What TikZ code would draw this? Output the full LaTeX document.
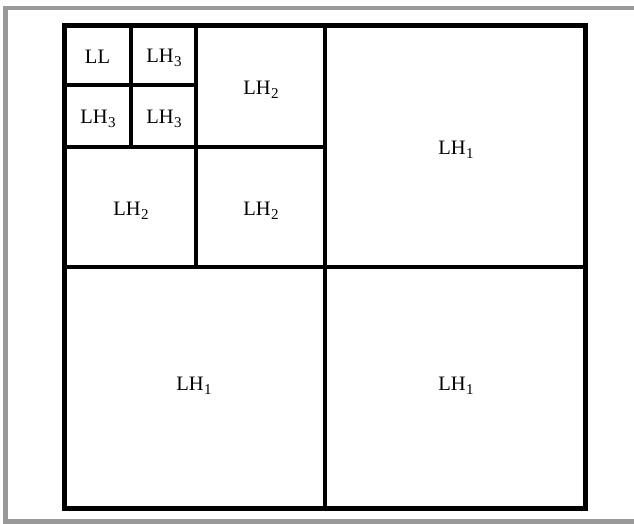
\documentclass[tikz,border=0pt]{standalone}
\usepackage{fontspec}
\setmainfont{Liberation Serif}
\tikzset{
  frameline/.style={draw=black!40, line width=4.5pt},
  outerline/.style={draw=black, line width=5pt},
  innerline/.style={draw=black, line width=4pt},
  lbl/.style={font=\fontsize{20.5}{22}\selectfont, inner sep=0pt}
}
\newcommand\lhsub[1]{LH\kern0.5pt\raisebox{-4.5pt}{\fontsize{15}{15}\selectfont #1}}
\begin{document}
\begin{tikzpicture}[x=1pt,y=-1pt]
\useasboundingbox (0,0) rectangle (634,523);
\fill[white] (0,0) rectangle (634,523);
% outer gray frame (right side cut off)
\draw[frameline] (634,8) -- (5.5,8) -- (5.5,521.5) -- (634,521.5);
% coordinates
\coordinate (TL) at (64.5,25.5);
\coordinate (BR) at (585.5,508);
% inner lines
\draw[innerline] (325,25.5) -- (325,508);
\draw[innerline] (64.5,266.5) -- (585.5,266.5);
\draw[innerline] (196,25.5) -- (196,266.5);
\draw[innerline] (64.5,146.5) -- (325,146.5);
\draw[innerline] (131,25.5) -- (131,146.5);
\draw[innerline] (64.5,85) -- (196,85);
% outer square
\draw[outerline] (TL) rectangle (BR);
% labels
\node[lbl] (ll)  at (97.5,57) {LL};
\node[lbl] (a3)  at (164,58) {\lhsub{3}};
\node[lbl] (b3)  at (98,119) {\lhsub{3}};
\node[lbl] (c3)  at (164,119) {\lhsub{3}};
\node[lbl] (a2)  at (261,90) {\lhsub{2}};
\node[lbl] (b2)  at (131,211) {\lhsub{2}};
\node[lbl] (c2)  at (261,211) {\lhsub{2}};
\node[lbl] (a1)  at (456,150) {\lhsub{1}};
\node[lbl] (b1)  at (194,386) {\lhsub{1}};
\node[lbl] (c1)  at (456,386) {\lhsub{1}};
\end{tikzpicture}
\end{document}
